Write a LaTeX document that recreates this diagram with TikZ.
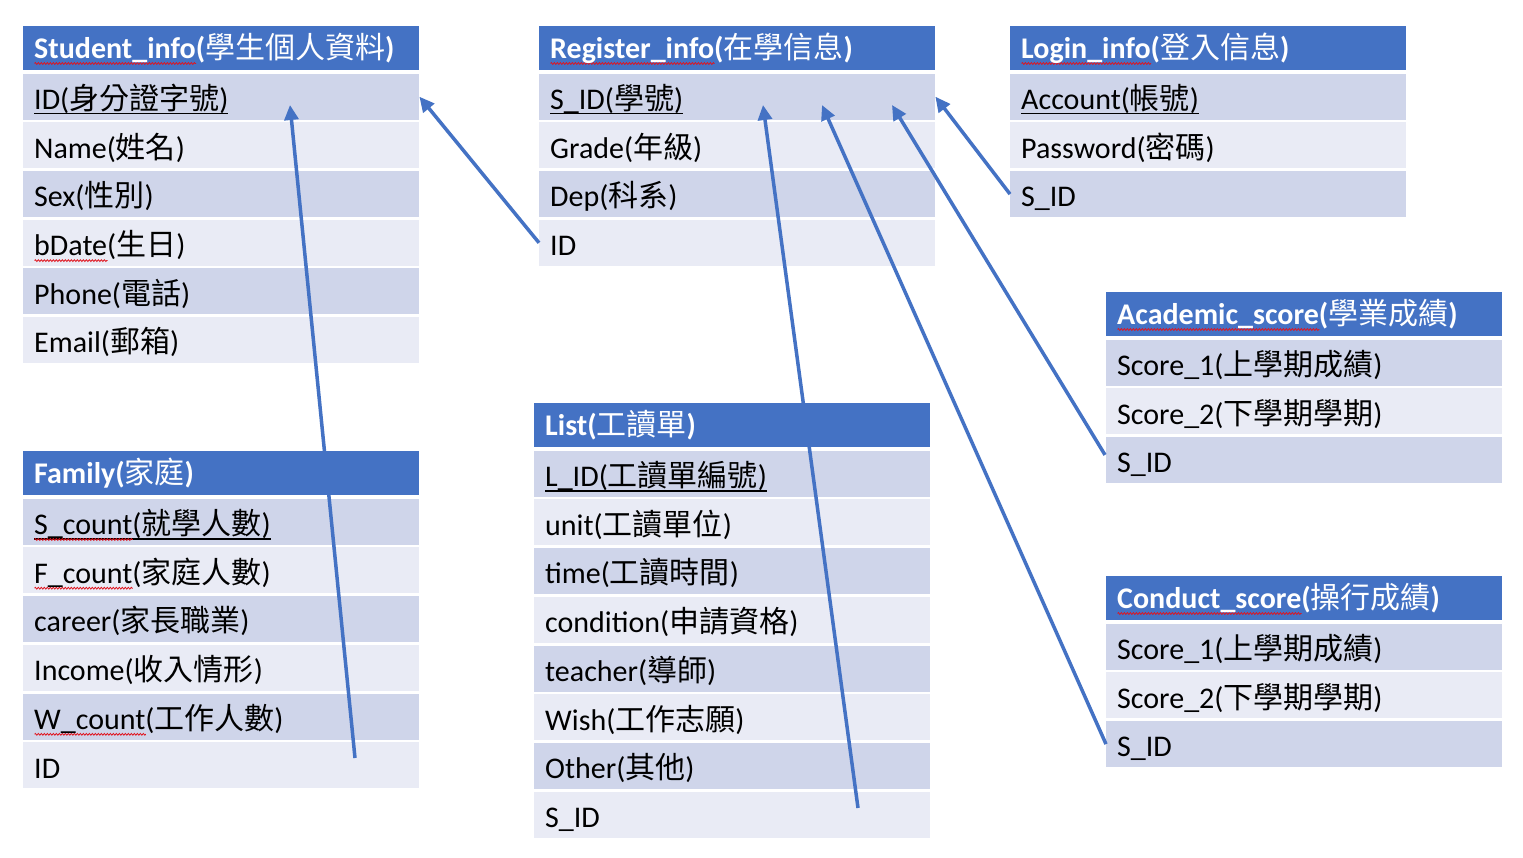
\documentclass[tikz,border=0pt]{standalone}
\usepackage{fontspec}
\setmainfont{Carlito}
\newfontfamily\cjk{Noto Sans CJK TC}
\usetikzlibrary{arrows.meta,calc,decorations.pathmorphing}
\definecolor{hdrblue}{HTML}{4472C4}
\definecolor{rowdark}{HTML}{CFD5EA}
\definecolor{rowlight}{HTML}{E9EBF5}
\definecolor{squig}{HTML}{E0141E}
\newcommand\zh[1]{{\cjk\mdseries #1}}
\newcommand\ul[1]{\setbox0=\hbox{#1}\rlap{\rule[-5pt]{\wd0}{1.5pt}}\box0}
\newcommand\wv[1]{\setbox2=\hbox{#1}\rlap{\tikz[baseline=0pt]\draw[squig, line width=0.8pt, decorate, decoration={zigzag,amplitude=0.9pt,segment length=3pt}] (0pt,-5pt) -- (\wd2,-5pt);}\box2}
\tikzset{
  hdrbox/.style={fill=hdrblue, draw=none, minimum width=396pt, minimum height=44pt, inner sep=0pt, anchor=north west},
  rowd/.style={fill=rowdark, draw=none, minimum width=396pt, minimum height=46pt, inner sep=0pt, anchor=north west},
  rowl/.style={fill=rowlight, draw=none, minimum width=396pt, minimum height=46pt, inner sep=0pt, anchor=north west},
  txt/.style={anchor=base west, inner sep=0pt, font=\fontsize{30}{35}\selectfont, text=black},
  htxt/.style={anchor=base west, inner sep=0pt, font=\fontsize{30}{35}\selectfont\bfseries, text=white},
  link/.style={draw=hdrblue, line width=3.5pt, -{Triangle[length=15pt,width=14pt]}}
}
\newcommand\hdr[4]{%
  \node[hdrbox] (#1) at (#2,#3) {};
  \node[htxt] (#1t) at ([xshift=11pt,yshift=-32.5pt]#1.north west) {#4};}
\newcommand\trow[6]{%
  \pgfmathsetmacro\ry{#3+47.5+(#4-1)*48.7}
  \node[#5] (#1) at (#2,\ry) {};
  \node[txt] (#1t) at ([xshift=11pt,yshift=-36pt]#1.north west) {#6};}
\begin{document}
\begin{tikzpicture}[x=1pt,y=-1pt]
\useasboundingbox[fill=white] (0,0) rectangle (1523,858);
% Student_info
\hdr{sh}{23}{26}{\wv{Student\_info}(\zh{學生個人資料})}
\trow{s1}{23}{26}{1}{rowd}{\ul{ID(\zh{身分證字號})}}
\trow{s2}{23}{26}{2}{rowl}{Name(\zh{姓名})}
\trow{s3}{23}{26}{3}{rowd}{Sex(\zh{性別})}
\trow{s4}{23}{26}{4}{rowl}{\wv{bDate}(\zh{生日})}
\trow{s5}{23}{26}{5}{rowd}{Phone(\zh{電話})}
\trow{s6}{23}{26}{6}{rowl}{Email(\zh{郵箱})}
% Family
\hdr{fh}{23}{451}{Family(\zh{家庭})}
\trow{f1}{23}{451}{1}{rowd}{\ul{\wv{S\_count}(\zh{就學人數})}}
\trow{f2}{23}{451}{2}{rowl}{\wv{F\_count}(\zh{家庭人數})}
\trow{f3}{23}{451}{3}{rowd}{career(\zh{家長職業})}
\trow{f4}{23}{451}{4}{rowl}{Income(\zh{收入情形})}
\trow{f5}{23}{451}{5}{rowd}{\wv{W\_count}(\zh{工作人數})}
\trow{f6}{23}{451}{6}{rowl}{ID}
% Register_info
\hdr{rh}{539}{26}{\wv{Register\_info}(\zh{在學信息})}
\trow{r1}{539}{26}{1}{rowd}{\ul{S\_ID(\zh{學號})}}
\trow{r2}{539}{26}{2}{rowl}{Grade(\zh{年級})}
\trow{r3}{539}{26}{3}{rowd}{Dep(\zh{科系})}
\trow{r4}{539}{26}{4}{rowl}{ID}
% Login_info
\hdr{gh}{1010}{26}{\wv{Login\_info}(\zh{登入信息})}
\trow{g1}{1010}{26}{1}{rowd}{\ul{Account(\zh{帳號})}}
\trow{g2}{1010}{26}{2}{rowl}{Password(\zh{密碼})}
\trow{g3}{1010}{26}{3}{rowd}{S\_ID}
% List
\hdr{lh}{534}{403}{List(\zh{工讀單})}
\trow{l1}{534}{403}{1}{rowd}{\ul{L\_ID(\zh{工讀單編號})}}
\trow{l2}{534}{403}{2}{rowl}{unit(\zh{工讀單位})}
\trow{l3}{534}{403}{3}{rowd}{time(\zh{工讀時間})}
\trow{l4}{534}{403}{4}{rowl}{condition(\zh{申請資格})}
\trow{l5}{534}{403}{5}{rowd}{teacher(\zh{導師})}
\trow{l6}{534}{403}{6}{rowl}{Wish(\zh{工作志願})}
\trow{l7}{534}{403}{7}{rowd}{Other(\zh{其他})}
\trow{l8}{534}{403}{8}{rowl}{S\_ID}
% Academic_score
\hdr{ah}{1106}{292}{\wv{Academic\_score}(\zh{學業成績})}
\trow{a1}{1106}{292}{1}{rowd}{Score\_1(\zh{上學期成績})}
\trow{a2}{1106}{292}{2}{rowl}{Score\_2(\zh{下學期學期})}
\trow{a3}{1106}{292}{3}{rowd}{S\_ID}
% Conduct_score
\hdr{ch}{1106}{576}{\wv{Conduct\_score}(\zh{操行成績})}
\trow{c1}{1106}{576}{1}{rowd}{Score\_1(\zh{上學期成績})}
\trow{c2}{1106}{576}{2}{rowl}{Score\_2(\zh{下學期學期})}
\trow{c3}{1106}{576}{3}{rowd}{S\_ID}
% connectors
\draw[link] ($(f6.north west)+(332,16)$) -- ($(s1.north west)+(267,31.5)$);
\draw[link] (r4.west) -- (s1.east);
\draw[link] ($(l8.north west)+(324,16.6)$) -- ($(r1.north west)+(224,31.5)$);
\draw[link] (c3.west) -- ($(r1.north west)+(283,31.5)$);
\draw[link] ($(a3.north west)+(-1,18)$) -- ($(r1.north west)+(353,31.5)$);
\draw[link] (g3.west) -- (r1.east);
\end{tikzpicture}
\end{document}
